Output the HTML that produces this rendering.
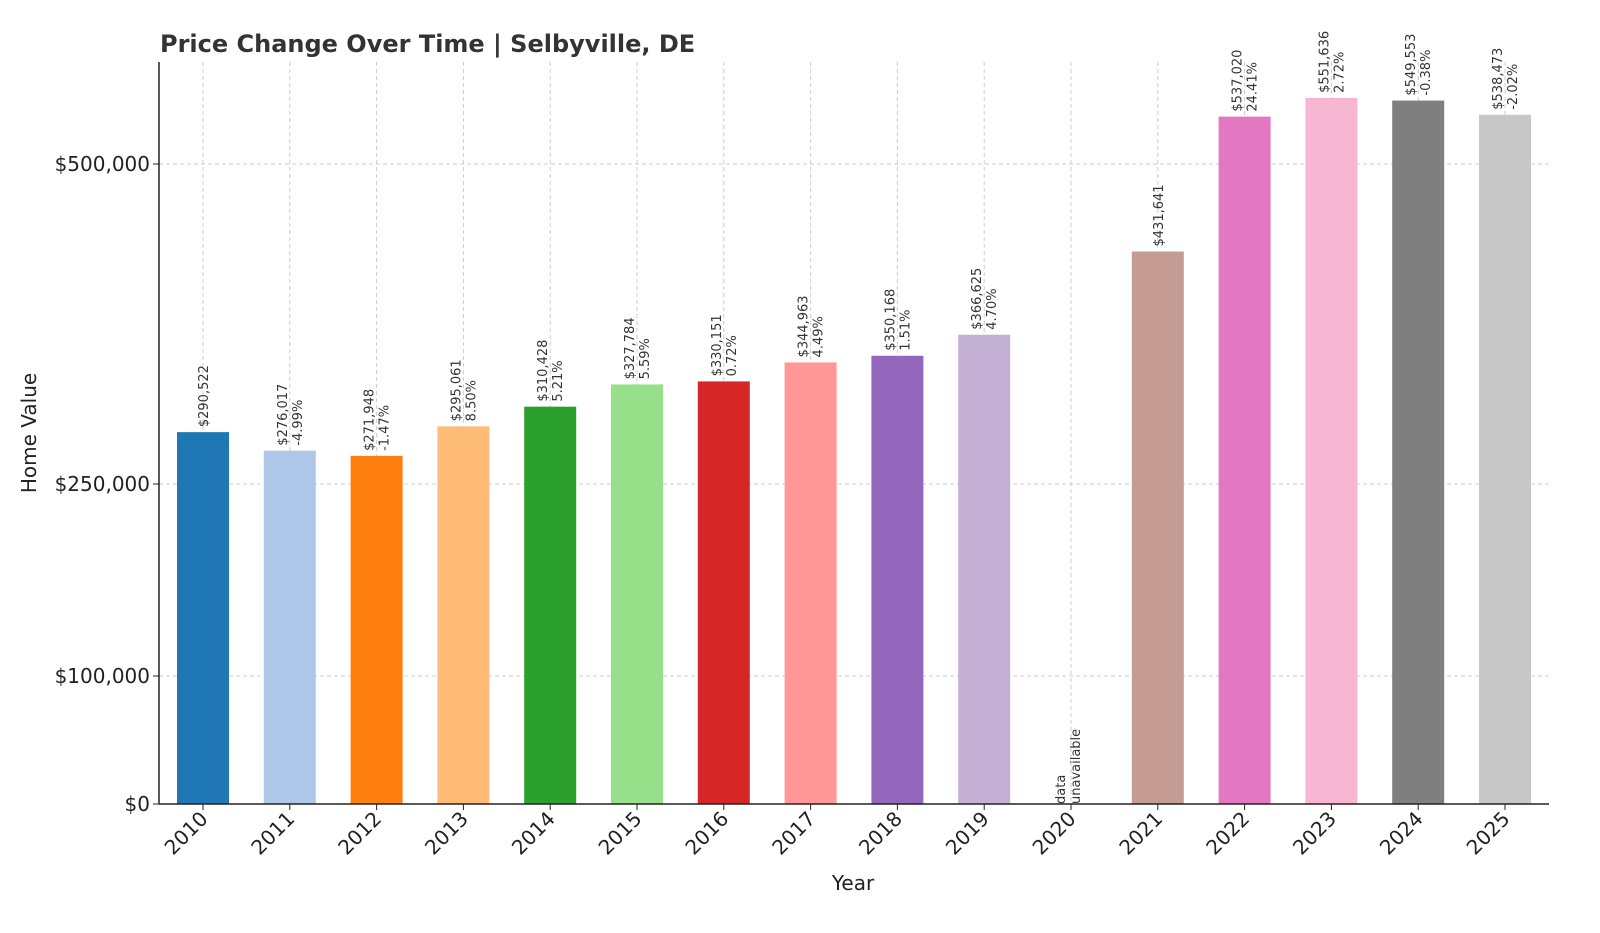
<!DOCTYPE html>
<html><head><meta charset="utf-8"><style>
body{margin:0;background:#fff;}
svg{display:block;font-family:"DejaVu Sans","Liberation Sans",sans-serif;}
</style></head><body>
<svg id="chart" width="1600" height="933" viewBox="0 0 1600 933">
<text x="160" y="52" font-size="24" font-weight="bold" fill="#333">Price Change Over Time | Selbyville, DE</text>
<text transform="translate(36,433) rotate(-90)" text-anchor="middle" font-size="20" fill="#222">Home Value</text>
<text x="853" y="890" text-anchor="middle" font-size="20" fill="#222">Year</text>
<g id="grid"></g><g id="bars"></g><g id="labels"></g><g id="axes"></g>
</svg>
<script>
const years = ["2010","2011","2012","2013","2014","2015","2016","2017","2018","2019","2020","2021","2022","2023","2024","2025"];
const values = [290522,276017,271948,295061,310428,327784,330151,344963,350168,366625,null,431641,537020,551636,549553,538473];
const pcts = [null,"-4.99%","-1.47%","8.50%","5.21%","5.59%","0.72%","4.49%","1.51%","4.70%",null,null,"24.41%","2.72%","-0.38%","-2.02%"];
const yTicks = [0,100000,250000,500000];
const yTickLabels = ["$0","$100,000","$250,000","$500,000"];
const colors = ["#1f77b4","#aec7e8","#ff7f0e","#ffbb78","#2ca02c","#98df8a","#d62728","#ff9896","#9467bd","#c5b0d5","#8c564b","#c49c94","#e377c2","#f7b6d2","#7f7f7f","#c7c7c7"];
const NS="http://www.w3.org/2000/svg";
const x0=159,x1=1549,yTop=62,yBase=804;
function xPos(i){return 203+i*(1505-203)/15;}
function yPos(v){return yBase-v*0.00128;}
function mk(tag,attrs,parent){const e=document.createElementNS(NS,tag);for(const k in attrs)e.setAttribute(k,attrs[k]);parent.appendChild(e);return e;}
const grid=document.getElementById('grid'),bars=document.getElementById('bars'),labels=document.getElementById('labels'),axes=document.getElementById('axes');
yTicks.forEach((t,i)=>{
  const y=yPos(t);
  if(t>0){const g=mk('line',{x1:x0,x2:x1,y1:y,y2:y,stroke:'#ccc','stroke-dasharray':'4,3'},grid);
  
  }
  mk('line',{x1:x0-6,x2:x0,y1:y,y2:y,stroke:'#222'},axes);
  const tx=mk('text',{x:x0-9,y:y+7,'text-anchor':'end','font-size':20,fill:'#222'},axes);
  tx.textContent=yTickLabels[i];
  
  
});
years.forEach((yr,i)=>{
  const cx=xPos(i);
  const g=mk('line',{x1:cx,x2:cx,y1:yTop,y2:yBase,stroke:'#ccc','stroke-dasharray':'4,3'},grid);
  
  
  mk('line',{x1:cx,x2:cx,y1:yBase,y2:yBase+6,stroke:'#222'},axes);
  const tl=mk('text',{transform:`translate(${cx+6},${yBase+16}) rotate(-45)`,'text-anchor':'end','font-size':20,fill:'#222'},axes);
  tl.textContent=yr;
  
  
  const v=values[i];
  if(v==null){
    const t=mk('text',{transform:`translate(${cx},${yBase}) rotate(-90)`,'font-size':13,fill:'#333'},labels);
    
    
    const a=mk('tspan',{x:0,dy:-6},t);a.textContent='data';
    const b=mk('tspan',{x:0,dy:15},t);b.textContent='unavailable';
    return;
  }
  const yt=yPos(v);
  const r=mk('rect',{x:cx-26,y:yt,width:52,height:yBase-yt,fill:colors[i]},bars);
  
  
  const money='$'+v.toLocaleString('en-US');
  const t=mk('text',{transform:`translate(${cx},${yt-5}) rotate(-90)`,'font-size':13,fill:'#333'},labels);
  
  
  if(pcts[i]){
    const a=mk('tspan',{x:0,dy:-3},t);a.textContent=money;
    const b=mk('tspan',{x:0,dy:15},t);b.textContent=pcts[i];
  } else {
    const a=mk('tspan',{x:0,dy:5},t);a.textContent=money;
  }
});
mk('line',{x1:x0,x2:x0,y1:yTop,y2:yBase,stroke:'#222','stroke-width':1.5},axes);
mk('line',{x1:x0,x2:x1,y1:yBase,y2:yBase,stroke:'#222','stroke-width':1.5},axes);
</script>
</body></html>
